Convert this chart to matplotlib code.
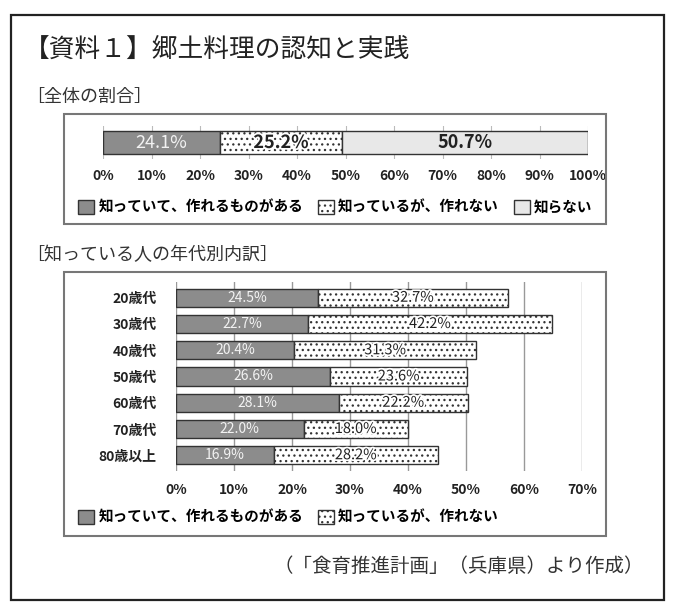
import matplotlib.pyplot as plt
import matplotlib.patches as mpatches
import matplotlib.patheffects as pe

plt.rcParams['font.family'] = ['Noto Sans CJK JP', 'DejaVu Sans']
plt.rcParams['hatch.linewidth'] = 0.9
plt.rcParams['hatch.color'] = '#333333'

# 全体の割合
zentai_labels = ['知っていて、作れるものがある', '知っているが、作れない', '知らない']
zentai = [24.1, 25.2, 50.7]

# 知っている人の年代別内訳
nendai = ['20歳代', '30歳代', '40歳代', '50歳代', '60歳代', '70歳代', '80歳以上']
tsukureru = [24.5, 22.7, 20.4, 26.6, 28.1, 22.0, 16.9]
tsukurenai = [32.7, 42.2, 31.3, 23.6, 22.2, 18.0, 28.2]

# 色と模様
iro = ['#8c8c8c', 'white', '#e8e8e8']
moyou = [None, '...', None]
fuchi = '#333333'
shiro_fuchi = [pe.withStroke(linewidth=2.5, foreground='white')]

W, H = 676, 610
fig = plt.figure(figsize=(W / 100, H / 100), dpi=100)


def fx(px):
    return px / W


def fy(py):
    return 1 - py / H


def waku(x0, y0, x1, y1):
    return [fx(x0), fy(y1), (x1 - x0) / W, (y1 - y0) / H]


def hako(x0, y0, x1, y1, color, lw):
    r = mpatches.Rectangle((fx(x0), fy(y1)), (x1 - x0) / W, (y1 - y0) / H,
                           transform=fig.transFigure, fill=False,
                           edgecolor=color, linewidth=lw)
    fig.patches.append(r)


# 枠
hako(11, 15, 664, 600, '#222222', 1.6)
hako(64, 114, 606, 224, '#777777', 1.5)
hako(64, 272, 606, 536, '#777777', 1.5)

# 見出し
fig.text(fx(24), fy(50), '【資料１】郷土料理の認知と実践', fontsize=18.5,
         va='center', ha='left', color='#222222')
fig.text(fx(26), fy(97), '［全体の割合］', fontsize=13, va='center', color='#333333')
fig.text(fx(26), fy(255), '［知っている人の年代別内訳］', fontsize=13,
         va='center', color='#333333')
fig.text(fx(644), fy(566), '（「食育推進計画」（兵庫県）より作成）', fontsize=14,
         va='center', ha='right', color='#333333')

# 全体の割合
ax1 = fig.add_axes(waku(103, 126, 588, 159))
hidari = 0
for i, v in enumerate(zentai):
    ax1.barh(0, v, left=hidari, height=0.7, color=iro[i], hatch=moyou[i],
             edgecolor=fuchi, linewidth=1, zorder=3)
    if i == 0:
        ax1.text(hidari + v / 2, 0, f'{v}%', ha='center', va='center',
                 fontsize=13, color='#f2f2f2', zorder=4)
    else:
        t = ax1.text(hidari + v / 2, 0, f'{v}%', ha='center', va='center',
                     fontsize=13, fontweight='bold', color='#222222', zorder=4)
        if moyou[i]:
            t.set_path_effects(shiro_fuchi)
    hidari += v
ax1.set_xlim(0, 100)
ax1.set_ylim(-0.5, 0.5)
ax1.set_xticks(range(0, 101, 10))
ax1.set_xticklabels([f'{t}%' for t in range(0, 101, 10)])
ax1.set_yticks([])
ax1.grid(axis='x', color='#bbbbbb', linewidth=0.8, zorder=0)
for s in ax1.spines.values():
    s.set_visible(False)
ax1.tick_params(axis='x', length=0, pad=7, labelsize=10)
for lb in ax1.get_xticklabels():
    lb.set_fontweight('bold')
    lb.set_color('#222222')

hanrei1 = [mpatches.Patch(facecolor=iro[i], hatch=moyou[i], edgecolor=fuchi)
           for i in range(3)]
fig.legend(hanrei1, zentai_labels, loc='center left',
           bbox_to_anchor=(fx(78), fy(207)), ncol=3, frameon=False,
           handlelength=1.1, handleheight=1.1, handletextpad=0.3,
           columnspacing=1.0, borderaxespad=0, borderpad=0,
           prop=dict(weight='bold', size=10.5))

# 年代別内訳
ax2 = fig.add_axes(waku(176, 282, 582, 471))
y = range(len(nendai))
ax2.barh(y, tsukureru, height=0.7, color=iro[0], edgecolor=fuchi,
         linewidth=1, zorder=3)
ax2.barh(y, tsukurenai, left=tsukureru, height=0.7, color=iro[1],
         hatch=moyou[1], edgecolor=fuchi, linewidth=1, zorder=3)
for i in y:
    ax2.text(tsukureru[i] / 2, i, f'{tsukureru[i]:.1f}%', ha='center',
             va='center', fontsize=10, color='#f2f2f2', zorder=4)
    ax2.text(tsukureru[i] + tsukurenai[i] / 2, i, f'{tsukurenai[i]:.1f}%',
             ha='center', va='center', fontsize=10.5, color='#222222',
             zorder=4, path_effects=shiro_fuchi)
ax2.set_xlim(0, 70)
ax2.set_ylim(len(nendai) - 0.4, -0.6)
ax2.set_xticks(range(0, 71, 10))
ax2.set_xticklabels([f'{t}%' for t in range(0, 71, 10)])
ax2.set_yticks(list(y))
ax2.set_yticklabels(nendai)
ax2.grid(axis='x', color='#999999', linewidth=1, zorder=0)
for s in ax2.spines.values():
    s.set_visible(False)
ax2.tick_params(length=0, labelsize=10)
ax2.tick_params(axis='x', pad=9)
ax2.tick_params(axis='y', pad=14)
for lb in ax2.get_xticklabels() + ax2.get_yticklabels():
    lb.set_fontweight('bold')
    lb.set_color('#222222')

fig.legend(hanrei1[:2], zentai_labels[:2], loc='center left',
           bbox_to_anchor=(fx(78), fy(517)), ncol=2, frameon=False,
           handlelength=1.1, handleheight=1.1, handletextpad=0.3,
           columnspacing=1.0, borderaxespad=0, borderpad=0,
           prop=dict(weight='bold', size=10.5))

fig.savefig('out.png', dpi=100)
